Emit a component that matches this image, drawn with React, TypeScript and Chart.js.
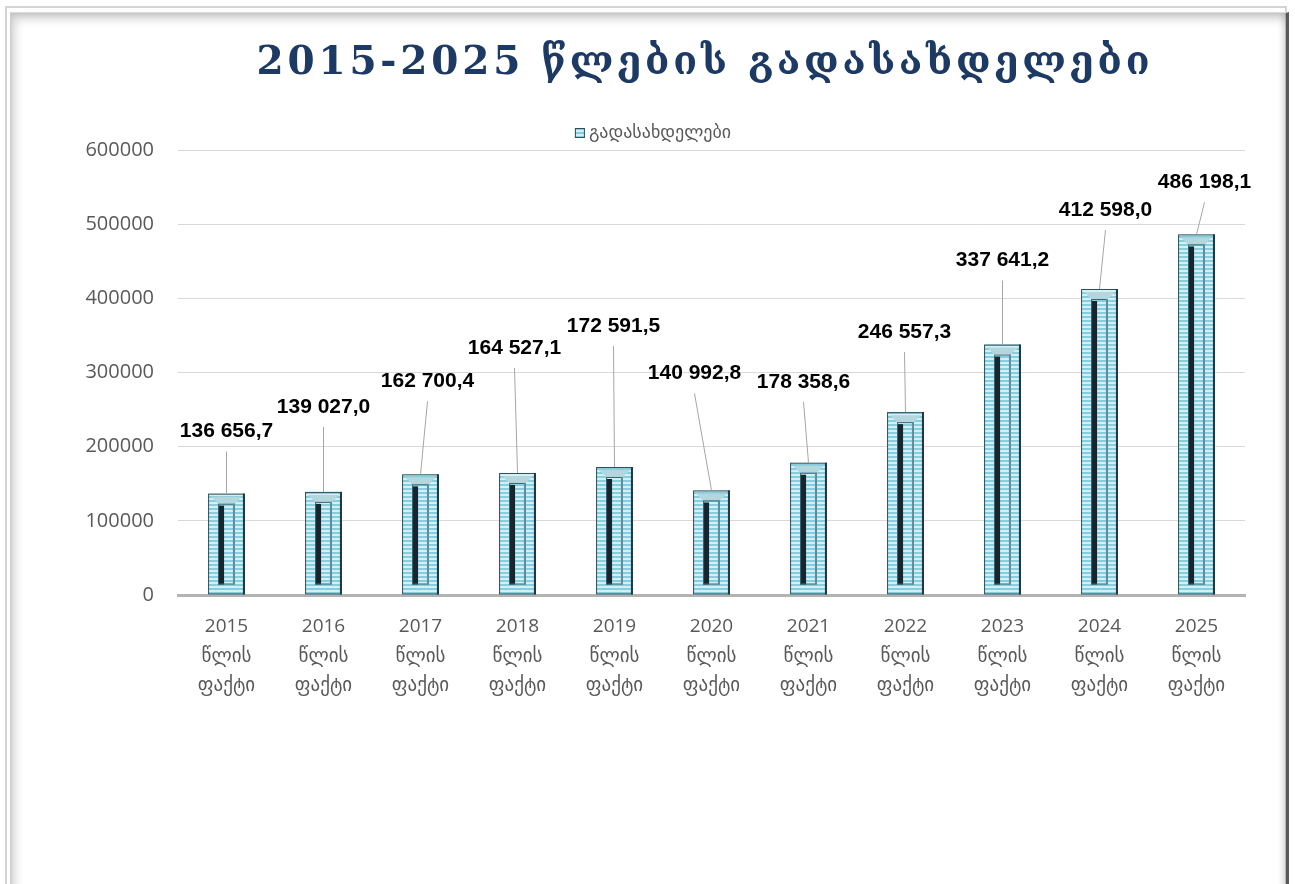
import React, { useEffect, useRef } from "react";
import { Chart, registerables } from "chart.js";

Chart.register(...registerables);

const TITLE = "2015-2025 წლების გადასახდელები";
const SERIES_NAME = "გადასახდელები";
const YEARS = ["2015", "2016", "2017", "2018", "2019", "2020", "2021", "2022", "2023", "2024", "2025"];
const LABEL_SUFFIX = ["წლის", "ფაქტი"];
const VALUES = [136656.7, 139027.0, 162700.4, 164527.1, 172591.5, 140992.8, 178358.6, 246557.3, 337641.2, 412598.0, 486198.1];
const VALUE_TEXT = ["136 656,7", "139 027,0", "162 700,4", "164 527,1", "172 591,5", "140 992,8", "178 358,6", "246 557,3", "337 641,2", "412 598,0", "486 198,1"];
// label offsets (px) relative to the top-centre of each bar
const LABEL_DX = [0, 0, 7, -3, -1, -17, -5, -1, 0, 6, 8];
const LABEL_DY = [-62, -85, -93, -125, -141, -117, -81, -80, -84, -79, -52];
const Y_TICKS = [0, 100000, 200000, 300000, 400000, 500000, 600000];

const FONT = '"Open Sans", "DejaVu Sans", sans-serif';

export default function App() {
  const ref = useRef<HTMLCanvasElement | null>(null);

  useEffect(() => {
    const canvas = ref.current!;
    const pc = document.createElement("canvas");
    pc.width = 4;
    pc.height = 4;
    const pctx = pc.getContext("2d")!;
    pctx.fillStyle = "#86cddd";
    pctx.fillRect(0, 0, 4, 2);
    pctx.fillStyle = "#d3f0f6";
    pctx.fillRect(0, 2, 4, 2);
    const pattern = canvas.getContext("2d")!.createPattern(pc, "repeat")!;

    const decor = {
      id: "decor",
      afterDatasetsDraw(chart: any) {
        const ctx = chart.ctx;
        const meta = chart.getDatasetMeta(0);
        ctx.save();
        meta.data.forEach((el: any, i: number) => {
          const { x, y, base, width } = el.getProps(["x", "y", "base", "width"], true);
          const left = x - width / 2;
          // outer border
          ctx.strokeStyle = "#2e4f58";
          ctx.lineWidth = 1;
          ctx.strokeRect(left + 0.5, y + 0.5, width - 1, base - y - 1);
          ctx.fillStyle = "#1f3a42";
          ctx.fillRect(left + width - 2, y, 2, base - y);
          // inner panel
          const ix = left + 10;
          const iw = width - 20;
          const iy = y + 10;
          const ib = base - 10;
          ctx.fillStyle = "#b4d6dd";
          ctx.beginPath();
          ctx.moveTo(left + 3, y + 3);
          ctx.lineTo(left + width - 3, y + 3);
          ctx.lineTo(ix + iw, iy);
          ctx.lineTo(ix, iy);
          ctx.closePath();
          ctx.fill();
          ctx.fillStyle = pattern;
          ctx.fillRect(ix, iy, iw, ib - iy);
          ctx.fillStyle = "#13272d";
          ctx.fillRect(ix, iy + 2, 6, ib - iy - 2);
          ctx.strokeStyle = "#3d6570";
          ctx.strokeRect(ix + 0.5, iy + 0.5, iw - 1, ib - iy - 1);
          ctx.fillStyle = "#5f8f9b";
          ctx.fillRect(ix + iw - 2, iy, 2, ib - iy);
          // label + leader line
          const lx = x + LABEL_DX[i];
          const ly = y + LABEL_DY[i];
          ctx.strokeStyle = "#a6a6a6";
          ctx.lineWidth = 1;
          ctx.beginPath();
          ctx.moveTo(lx, ly + 20);
          ctx.lineTo(x, y);
          ctx.stroke();
          ctx.fillStyle = "#000000";
          ctx.font = 'bold 21px "Liberation Sans", sans-serif';
          ctx.textAlign = "center";
          ctx.textBaseline = "middle";
          ctx.fillText(VALUE_TEXT[i], lx, ly);
        });
        // legend
        ctx.font = `18px ${FONT}`;
        const tw = ctx.measureText(SERIES_NAME).width;
        const total = 11 + 3 + tw;
        const sx = 653 - total / 2;
        const cy = chart.chartArea.top - 17;
        ctx.fillStyle = pattern;
        ctx.fillRect(sx, cy - 5, 10, 10);
        ctx.strokeStyle = "#2e4f58";
        ctx.strokeRect(sx + 0.5, cy - 4.5, 9, 9);
        ctx.fillStyle = "#595959";
        ctx.textAlign = "left";
        ctx.textBaseline = "middle";
        ctx.fillText(SERIES_NAME, sx + 14, cy);
        ctx.restore();
      },
    };

    const chart = new Chart(canvas, {
      type: "bar",
      data: {
        labels: YEARS.map((y) => [y, ...LABEL_SUFFIX]),
        datasets: [
          {
            label: SERIES_NAME,
            data: VALUES,
            backgroundColor: pattern as any,
            borderWidth: 0,
            categoryPercentage: 1,
            barPercentage: 0.38,
          },
        ],
      },
      options: {
        animation: false,
        responsive: false,
        maintainAspectRatio: false,
        layout: { padding: { top: 150, right: 50, bottom: 169, left: 0 } },
        plugins: { legend: { display: false }, tooltip: { enabled: false }, title: { display: false } },
        scales: {
          x: {
            grid: { display: false, drawTicks: false },
            border: { display: true, color: "#b3b3b3", width: 3 },
            ticks: { color: "#595959", font: { family: FONT, size: 19, lineHeight: 1.55 }, padding: 17, maxRotation: 0 },
            afterFit: (s: any) => {
              s.height = 120;
            },
          },
          y: {
            min: 0,
            max: 600000,
            afterBuildTicks: (s: any) => {
              s.ticks = Y_TICKS.map((v) => ({ value: v }));
            },
            grid: { color: "#d9d9d9", lineWidth: 1, drawTicks: false },
            border: { display: false },
            ticks: { color: "#595959", font: { family: FONT, size: 20 }, padding: 24, callback: (v: any) => String(v) },
            afterFit: (s: any) => {
              s.width = 178;
            },
          },
        },
      },
      plugins: [decor],
    });
    return () => chart.destroy();
  }, []);

  return (
    <div style={{ position: "absolute", left: 0, top: 0, width: 1295, height: 884, overflow: "hidden", background: "#fff" }}>
      <div style={{ position: "absolute", left: 5, top: 6, width: 1282, height: 920, border: "2px solid #d4d4d4", boxSizing: "border-box" }} />
      <div
        style={{
          position: "absolute",
          left: 10,
          top: 12,
          width: 1279,
          height: 920,
          boxSizing: "border-box",
          borderRight: "3px solid #5a5a5a",
          borderLeft: "1px solid #cfcfcf",
          borderTop: "1px solid #dcdcdc",
          boxShadow: "inset 4px 6px 10px rgba(0,0,0,0.18), inset -3px 0 6px rgba(0,0,0,0.15)",
        }}
      />
      <canvas ref={ref} width={1295} height={884} style={{ position: "absolute", left: 0, top: 0 }} />
      <div
        style={{
          position: "absolute",
          left: 0,
          top: 37,
          width: 1410,
          textAlign: "center",
          fontFamily: '"DejaVu Serif", serif',
          fontWeight: "bold",
          fontSize: 39,
          lineHeight: "46px",
          letterSpacing: 3.8,
          color: "#1c3a63",
          whiteSpace: "nowrap",
        }}
      >
        {TITLE}
      </div>
    </div>
  );
}
